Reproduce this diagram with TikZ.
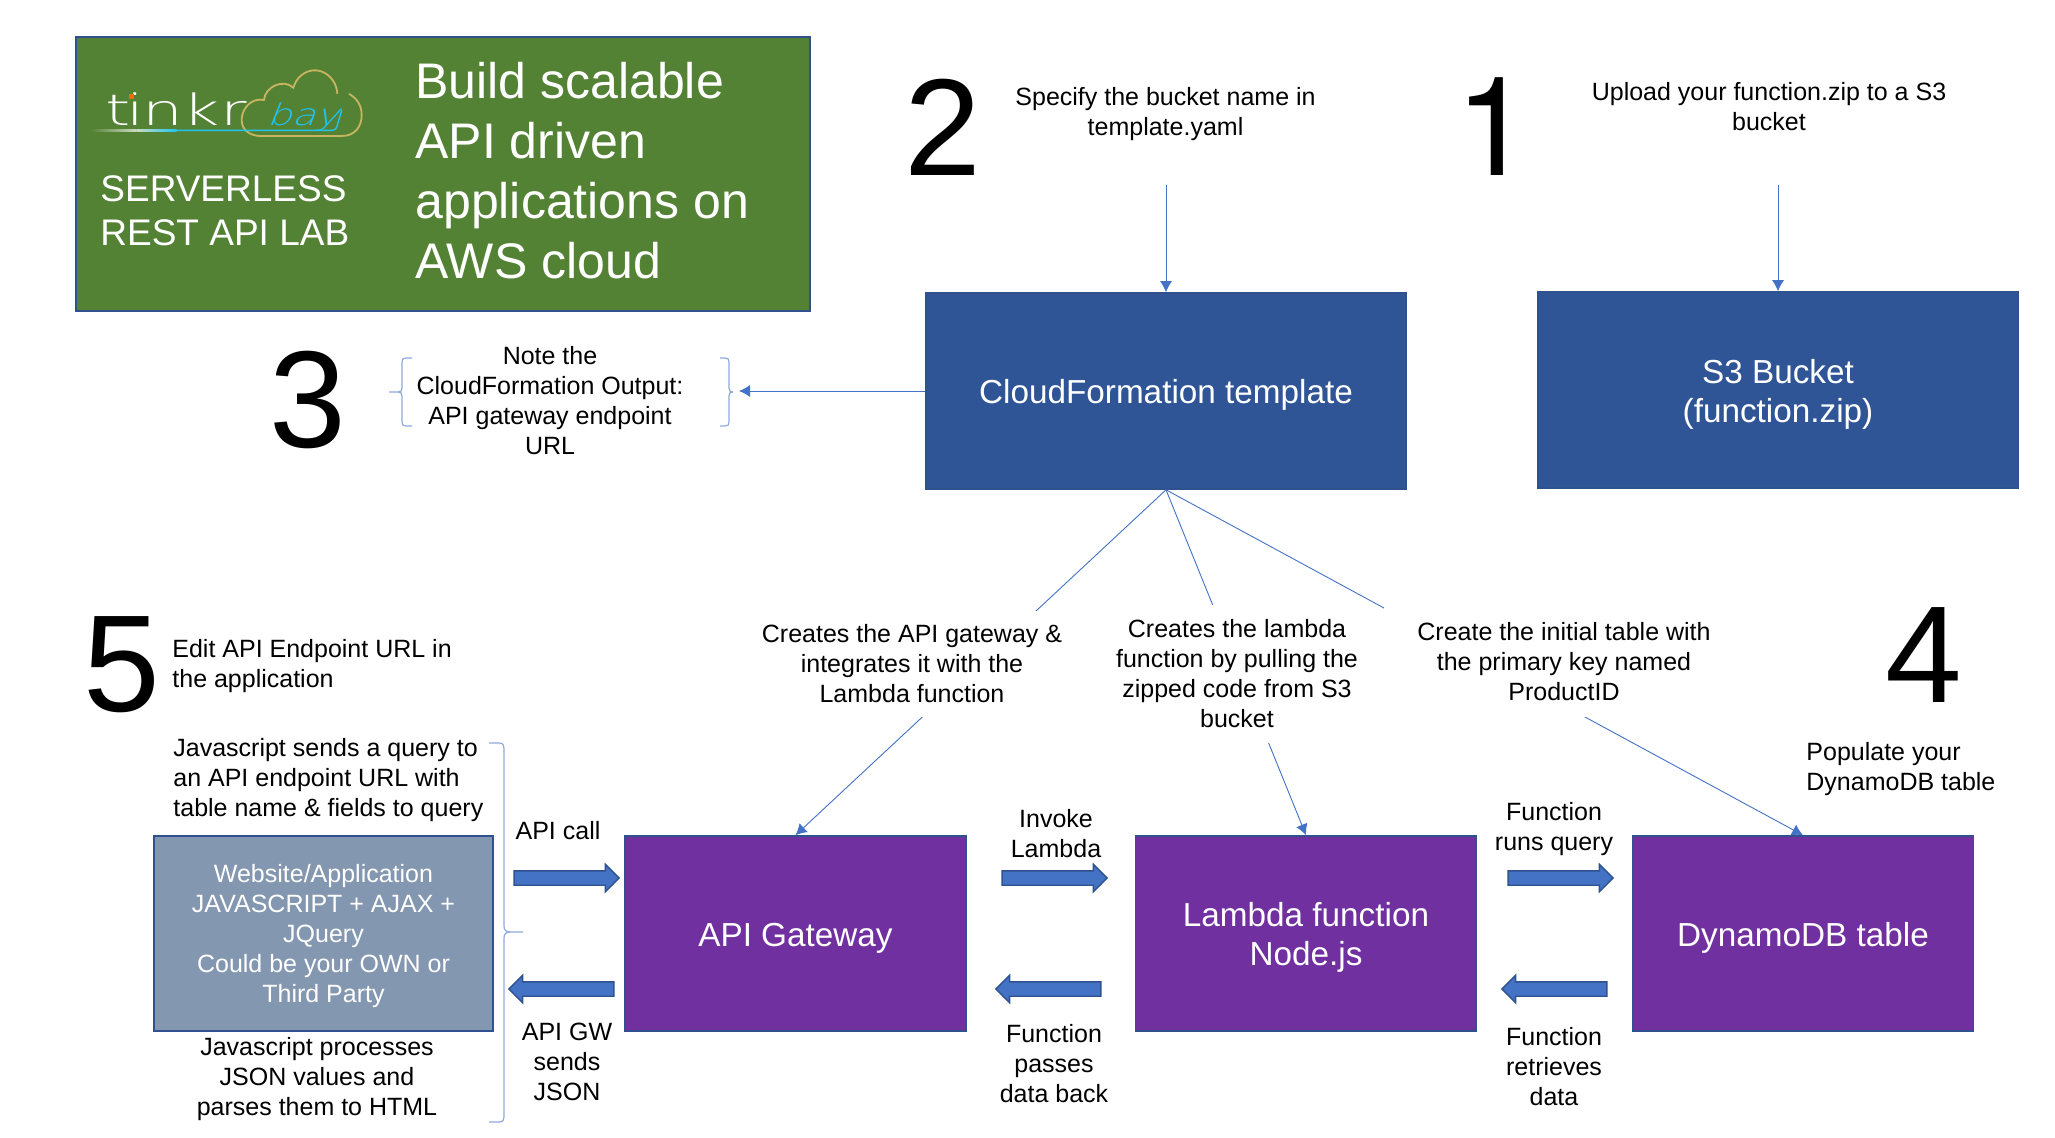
\documentclass[tikz,border=0pt]{standalone}
\usepackage{fontspec}
\setmainfont{Liberation Sans}
\newfontfamily\logofont{DejaVu Sans ExtraLight}
\newfontfamily\digitfont{TeX Gyre Heros}
\usetikzlibrary{arrows.meta,shapes.arrows}
\definecolor{greenbg}{HTML}{548235}
\definecolor{edgeblue}{HTML}{2F528F}
\definecolor{boxblue}{HTML}{2F5597}
\definecolor{boxpurple}{HTML}{7030A0}
\definecolor{boxgrey}{HTML}{8497B0}
\definecolor{accent}{HTML}{4472C4}
\definecolor{bracecol}{HTML}{8FAADC}
\definecolor{logocyan}{HTML}{1FC4F0}
\definecolor{logogold}{HTML}{C8B560}
\definecolor{logoorange}{HTML}{F26A0A}
\newcommand{\boxtop}{\rule{0pt}{16pt}}
\newcommand{\webtop}{\rule{0pt}{11.5pt}}
\tikzset{
  x=0.5pt,y=-0.5pt,
  box/.style={draw=edgeblue,line width=0.8pt,text=white,inner sep=0pt,align=center,font=\fontsize{16.65}{19.5}\selectfont},
  bluebox/.style={box,fill=boxblue,minimum width=240pt,minimum height=98pt},
  purplebox/.style={box,fill=boxpurple,minimum width=170.5pt,minimum height=97.5pt},
  greybox/.style={box,fill=boxgrey,minimum width=169.5pt,minimum height=97.5pt,font=\fontsize{12.5}{15}\selectfont},
  txt/.style={inner sep=0pt,align=center,font=\fontsize{12.5}{15}\selectfont,text=black},
  ltxt/.style={txt,align=left},
  cover/.style={txt,fill=white},
  bignum/.style={inner sep=0pt,font=\fontsize{69}{69}\selectfont,text=black},
  conn/.style={accent,line width=0.45pt},
  connarrow/.style={conn,-{Latex[length=5.5pt,width=6pt]}},
  bracket/.style={bracecol,line width=0.6pt},
  blockarrow/.style={single arrow,draw=edgeblue,line width=0.7pt,fill=accent,inner xsep=0pt,inner ysep=3.25pt,
    minimum height=52.5pt,minimum width=13pt,single arrow head extend=3.25pt,single arrow tip angle=90},
  blockleft/.style={blockarrow,shape border rotate=180}
}
\begin{document}
\begin{tikzpicture}
\useasboundingbox (0,0) rectangle (2055,1137);
\fill[white] (0,0) rectangle (2055,1137);
% banner
\node[draw=edgeblue,line width=0.8pt,fill=greenbg,minimum width=367pt,minimum height=137pt,inner sep=0pt] (banner) at (443,174) {};
\node[inner sep=0pt,anchor=west,align=left,text=white,font=\fontsize{25}{30}\selectfont] (headline) at (415,170.5) {Build scalable\\API driven\\applications on\\AWS cloud};
\node[inner sep=0pt,anchor=west,align=left,text=white,font=\fontsize{18.5}{22}\selectfont] (lab) at (100,211) {SERVERLESS\\REST API LAB};
% logo
\begin{scope}[shift={(60,20)},scale=0.33333]
  \draw[logogold,line width=0.9pt,line cap=round]
    (832,220) .. controls (828,165) and (770,130) .. (725,165)
    .. controls (712,175) and (705,188) .. (700,203)
    .. controls (670,175) and (615,200) .. (612,240)
    .. controls (575,232) and (545,265) .. (545,300)
    .. controls (545,330) and (570,347) .. (600,348)
    -- (845,348) .. controls (885,348) and (905,320) .. (905,285)
    .. controls (905,255) and (890,235) .. (868,222);
  \shade[left color=greenbg,right color=white!70!greenbg,draw=none] (90,329) rectangle (230,333);
  \shade[left color=white!70!greenbg,right color=logocyan,draw=none] (230,329) rectangle (350,333);
  \draw[logocyan,line width=0.7pt,line cap=round] (350,331) -- (815,331) .. controls (825,331) and (830,325) .. (832,315) -- (845,272);
\end{scope}
\node[inner sep=0pt,anchor=base west,text=white,xscale=1.5,font=\logofont\fontsize{21.5}{21.5}\selectfont] (logoa) at (105,125) {t\kern-1.5pt i\kern-0.5pt n\kern-0.5pt k\kern0.3pt r};
\node[inner sep=0pt,anchor=base west,text=logocyan,xscale=1.3,xslant=0.3,font=\logofont\fontsize{15}{15}\selectfont] (logob) at (266,125) {bay};
\begin{scope}[shift={(60,20)},scale=0.33333]
  \fill[logoorange] (208,222) rectangle (222,238);
\end{scope}
% boxes
\node[bluebox] (cf) at (1166,391) {\boxtop CloudFormation template};
\node[bluebox] (s3) at (1778,390) {\boxtop S3 Bucket\\(function.zip)};
\node[greybox] (web) at (323.5,933.5) {\webtop Website/Application\\JAVASCRIPT + AJAX +\\JQuery\\Could be your OWN or\\Third Party};
\node[purplebox] (gw) at (795.5,933.5) {\boxtop API Gateway};
\node[purplebox] (lam) at (1306,933.5) {\boxtop Lambda function\\Node.js};
\node[purplebox] (ddb) at (1803,933.5) {\boxtop DynamoDB table};
% free connector ends
\coordinate (specEnd) at (1166,185);
\coordinate (uploadEnd) at (1778,185);
\coordinate (noteTip) at (739,391);
% connectors
\draw[connarrow] (specEnd) -- (cf.north);
\draw[connarrow] (uploadEnd) -- (s3.north);
\draw[connarrow] (cf.west) -- (noteTip);
\draw[connarrow] (cf.south) -- (gw.north);
\draw[connarrow] (cf.south) -- (lam.north);
\draw[connarrow] (cf.south) -- (ddb.north);
% labels on the connectors
\node[cover,minimum width=305pt*0.5,minimum height=53pt] (lblgw) at (912,664) {Creates the API gateway \&\\integrates it with the\\Lambda function};
\node[cover,minimum width=270pt*0.5,minimum height=69pt] (lbllam) at (1237,674) {Creates the lambda\\function by pulling the\\zipped code from S3\\bucket};
\node[cover,minimum width=360pt*0.5,minimum height=55.5pt] (lblddb) at (1564,661.5) {Create the initial table with\\the primary key named\\ProductID};
% numbers
\node[bignum] (n2) at (943,127) {2};
\node[bignum,font=\digitfont\fontsize{69}{69}\selectfont] (n1) at (1494,127) {1};
\node[bignum] (n3) at (308,400) {3};
\node[bignum] (n4) at (1924,655) {4};
\node[bignum] (n5) at (122,665) {5};
% notes
\node[txt] (spec) at (1165.5,114.5) {Specify the bucket name in\\template.yaml};
\node[txt] (upload) at (1769,107) {Upload your function.zip to a S3\\bucket};
\node[txt] (note) at (550,400.5) {Note the\\CloudFormation Output:\\API gateway endpoint\\URL};
\node[ltxt,anchor=west] (edit) at (172,666.5) {Edit API Endpoint URL in\\the application};
\node[ltxt,anchor=west] (populate) at (1806,769.5) {Populate your\\DynamoDB table};
\node[ltxt,anchor=west] (jsq) at (173,780.5) {Javascript sends a query to\\an API endpoint URL with\\table name \& fields to query};
\node[txt] (jsp) at (317,1079.5) {Javascript processes\\JSON values and\\parses them to HTML};
\node[txt] (apicall) at (558,831) {API call};
\node[txt] (apigw) at (567,1062) {API GW\\sends\\JSON};
\node[txt] (invoke) at (1056,834) {Invoke\\Lambda};
\node[txt] (passes) at (1054,1064) {Function\\passes\\data back};
\node[txt] (runs) at (1554,829.5) {Function\\runs query};
\node[txt] (retr) at (1554,1067) {Function\\retrieves\\data};
% block arrows
\node[blockarrow] (a1) at (563,878) {};
\node[blockleft] (a2) at (565,989) {};
\node[blockarrow] (a3) at (1051,878) {};
\node[blockleft] (a4) at (1052,989) {};
\node[blockarrow] (a5) at (1557,878) {};
\node[blockleft] (a6) at (1558,989) {};
% brackets
\draw[bracket] (412,358) -- (406,358) .. controls (403,358) and (402,359) .. (402,362) -- (402,388) .. controls (402,391) and (401,392) .. (398,392) -- (389,392);
\draw[bracket] (398,392) .. controls (401,392) and (402,393) .. (402,396) -- (402,422) .. controls (402,425) and (403,426) .. (406,426) -- (412,426);
\draw[bracket] (720,358) -- (725,358) .. controls (728,358) and (729,359) .. (729,362) -- (729,388) .. controls (729,391) and (730,392) .. (733,392);
\draw[bracket] (733,392) .. controls (730,392) and (729,393) .. (729,396) -- (729,422) .. controls (729,425) and (728,426) .. (725,426) -- (720,426);
\draw[bracket] (489,743) -- (499,743) .. controls (503,743) and (504,745) .. (504,748) -- (504,926) .. controls (504,930) and (506,932) .. (510,932) -- (523,932);
\draw[bracket] (510,932) .. controls (506,932) and (504,934) .. (504,938) -- (504,1117) .. controls (504,1120) and (503,1122) .. (499,1122) -- (489,1122);
\end{tikzpicture}
\end{document}
